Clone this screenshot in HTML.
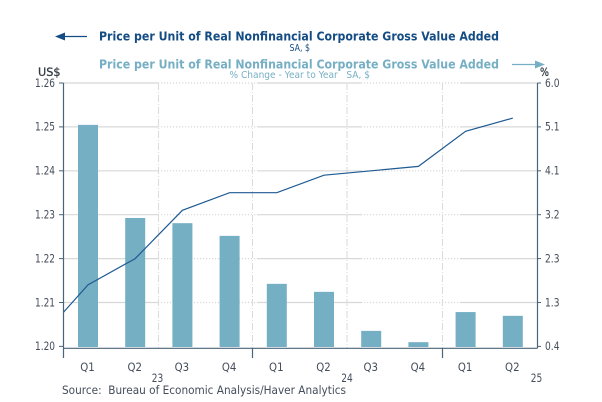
<!DOCTYPE html>
<html>
<head>
<meta charset="utf-8">
<title>Price per Unit of Real Nonfinancial Corporate Gross Value Added</title>
<style>
html,body{margin:0;padding:0;background:#fff;}
svg{display:block;}
text{font-family:"DejaVu Sans","Liberation Sans",sans-serif;white-space:pre;}
</style>
</head>
<body>
<svg id="chart" xmlns="http://www.w3.org/2000/svg" width="602" height="402" viewBox="0 0 602 402">
  <defs><clipPath id="plot-clip"><rect x="63.5" y="83" width="474" height="266"/></clipPath></defs>
  <rect width="602" height="402" fill="#fff"/>
  <g id="grid"></g>
  <g id="bars"></g>
  <polyline id="line" clip-path="url(#plot-clip)" fill="none" stroke="#1f5a92" stroke-width="1.2"/>
  <g id="axes"></g>
  <g id="labels"></g>

  <g>
    <line x1="62" y1="36.5" x2="87" y2="36.5" stroke="#144c84" stroke-width="1.3"/>
    <polygon points="55,36.5 65,32.5 65,40.5" fill="#144c84"/>
    <text x="99" y="40.5" font-size="12" font-weight="bold" fill="#144c84" textLength="400" lengthAdjust="spacingAndGlyphs">Price per Unit of Real Nonfinancial Corporate Gross Value Added</text>
    <text x="289.5" y="51" font-size="10" fill="#144c84" textLength="20.5" lengthAdjust="spacingAndGlyphs">SA, $</text>
  </g>
  <g>
    <text x="99" y="68.5" font-size="12" font-weight="bold" fill="#76afc4" textLength="400" lengthAdjust="spacingAndGlyphs">Price per Unit of Real Nonfinancial Corporate Gross Value Added</text>
    <text x="229.5" y="78" font-size="10" fill="#76afc4" textLength="140.5" lengthAdjust="spacingAndGlyphs">% Change - Year to Year   SA, $</text>
    <line x1="512" y1="64.5" x2="537" y2="64.5" stroke="#76afc4" stroke-width="1.3"/>
    <polygon points="545,64.5 535,60.5 535,68.5" fill="#76afc4"/>
  </g>
  <text x="38" y="76" font-size="11.5" fill="#333b45" stroke="#333b45" stroke-width="0.3" textLength="22.5" lengthAdjust="spacingAndGlyphs">US$</text>
  <text x="540" y="76" font-size="11.5" fill="#333b45" stroke="#333b45" stroke-width="0.3" textLength="9" lengthAdjust="spacingAndGlyphs">%</text>
  <text x="62" y="394" font-size="11.5" fill="#444d5a" textLength="284" lengthAdjust="spacingAndGlyphs">Source:  Bureau of Economic Analysis/Haver Analytics</text>
</svg>
<script>
// Data
const quarters = ["Q1","Q2","Q3","Q4","Q1","Q2","Q3","Q4","Q1","Q2"];
const barValues = [5.11,3.13,3.02,2.75,1.73,1.56,0.73,0.49,1.13,1.05];
const lineValues = [1.214,1.220,1.231,1.235,1.235,1.239,1.240,1.241,1.249,1.252];
const linePriorValue = [1.202];
const leftTicks = [1.26,1.25,1.24,1.23,1.22,1.21,1.20];
const rightTicks = [6.0,5.0667,4.1333,3.2,2.2667,1.3333,0.4];
const yearLabels = ["23","24","25"];

// Axis functions
const plotLeft = 63.5, plotRight = 537.5, plotTop = 83, plotZero = 346.4, axisY = 348.3;
const NS = "http://www.w3.org/2000/svg";
function xQ(i){ return 88 + i * 47.2; }
function yL(v){ return plotZero - (v - 1.20) / 0.06 * (plotZero - plotTop); }
function yR(v){ return plotZero - (v - 0.4) / 5.6 * (plotZero - plotTop); }
function mk(parent, tag, attrs){
  const el = document.createElementNS(NS, tag);
  for (const k in attrs) el.setAttribute(k, attrs[k]);
  parent.appendChild(el);
  return el;
}
const grid = document.getElementById("grid");
const bars = document.getElementById("bars");
const axes = document.getElementById("axes");
const labels = document.getElementById("labels");

// Horizontal grid lines
const gridColor = "#d8d8d8";
const gridSegments = [[63.5,158,""],[158,258,"1.2 1.8"],[258,361,""],[361,460,"1.2 1.8"],[460,537.5,""]];
leftTicks.forEach(function(t){
  if (t === 1.20) return;
  gridSegments.forEach(function(s){
    const l = mk(grid, "line", {x1:s[0], x2:s[1], y1:yL(t), y2:yL(t), stroke:gridColor, "stroke-width":1.2, "stroke-dasharray":s[2] || "none"});
    
    
  });
});

// Vertical grid lines
[158.5,252.5,347,442.5].forEach(function(x){
  const l = mk(grid, "line", {x1:x, x2:x, y1:plotTop, y2:axisY, stroke:"#dcdcdc", "stroke-width":1.1, "stroke-dasharray":"7 2 1 2"});
  
  
});

// Bars
barValues.forEach(function(v,i){
  const top = yR(v);
  const r = mk(bars, "rect", {x:xQ(i)-10, y:top, width:20, height:347-top, fill:"#75afc4"});
  
  
});

// Line
const linePts = [[xQ(-1), yL(linePriorValue[0])]].concat(lineValues.map(function(v,i){ return [xQ(i), yL(v)]; }));
document.getElementById("line").setAttribute("points", linePts.map(function(p){ return p[0].toFixed(1)+","+p[1].toFixed(1); }).join(" "));

// Axes
const axisColor = "#4a6478";
function axisLine(x1,y1,x2,y2,name,w){
  const l = mk(axes, "line", {x1:x1,y1:y1,x2:x2,y2:y2,stroke:axisColor,"stroke-width":w});
  
  
}
axisLine(plotLeft, plotTop, plotLeft, 358, "left-axis-line", 1.2);
axisLine(plotRight, plotTop, plotRight, axisY, "right-axis-line", 1.2);
axisLine(plotLeft, axisY, plotRight, axisY, "bottom-axis-line", 1.2);
axisLine(252.5, axisY, 252.5, 358, "year-tick", 1.2);
axisLine(442.5, axisY, 442.5, 358, "year-tick", 1.2);

function label(x,y,str,name,anchor,len){
  const t = mk(labels, "text", {x:x,y:y,"font-size":11.5,fill:"#444d5a","text-anchor":anchor});
  if (len) { t.setAttribute("textLength", len); t.setAttribute("lengthAdjust", "spacingAndGlyphs"); }
  t.textContent = str;
  
  
}

leftTicks.forEach(function(t){
  axisLine(59, yL(t), plotLeft, yL(t), "left-axis-tick", 1);
  label(35, yL(t)+3.8, t.toFixed(2), "left-tick-label", "start", 20);
});
rightTicks.forEach(function(t){
  axisLine(plotRight, yR(t), 541, yR(t), "right-axis-tick", 1);
  label(545, yR(t)+3.8, t.toFixed(1), "right-tick-label", "start", 14.5);
});
quarters.forEach(function(q,i){
  label(xQ(i)-0.5, 371, q, "quarter-label", "middle", 14.5);
});
yearLabels.forEach(function(y,i){
  label(157.5 + i*189.5, 382, y, "year-label", "middle", 11.5);
});
</script>
</body>
</html>
